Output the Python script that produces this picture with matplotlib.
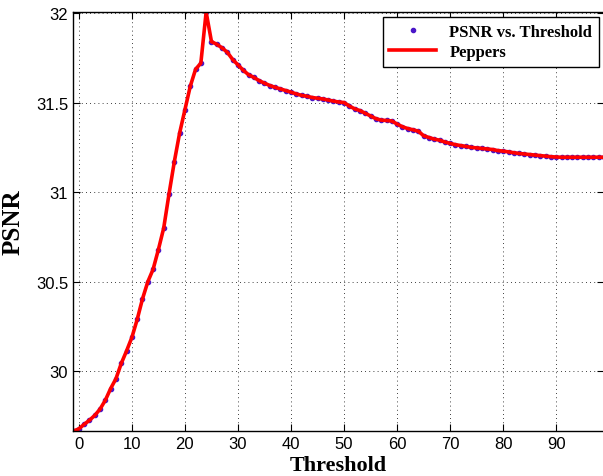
import matplotlib
matplotlib.use("Agg")
import matplotlib.pyplot as plt

# threshold values and measured PSNR (Peppers)
threshold = list(range(-1, 100))
psnr = [
    29.668, 29.680, 29.705, 29.728, 29.755, 29.790, 29.840, 29.905, 29.960, 30.045,
    30.115, 30.190, 30.290, 30.405, 30.500, 30.570, 30.680, 30.800, 30.990, 31.170,
    31.330, 31.460, 31.590, 31.685, 31.720, 32.005, 31.840, 31.825, 31.805, 31.780,
    31.740, 31.710, 31.680, 31.655, 31.640, 31.622, 31.608, 31.595, 31.585, 31.576,
    31.567, 31.558, 31.548, 31.540, 31.535, 31.528, 31.524, 31.520, 31.514, 31.508,
    31.503, 31.500, 31.480, 31.465, 31.455, 31.440, 31.425, 31.410, 31.402, 31.400,
    31.397, 31.380, 31.365, 31.355, 31.348, 31.340, 31.315, 31.305, 31.296, 31.290,
    31.280, 31.272, 31.265, 31.260, 31.255, 31.250, 31.247, 31.244, 31.241, 31.238,
    31.232, 31.229, 31.225, 31.220, 31.216, 31.213, 31.210, 31.207, 31.204, 31.201,
    31.198, 31.196, 31.195, 31.195, 31.195, 31.195, 31.195, 31.195, 31.195, 31.195,
    31.195,
]
xticks = list(range(0, 100, 10))
yticks = [30, 30.5, 31, 31.5, 32]
ytick_labels = ["30", "30.5", "31", "31.5", "32"]

fig = plt.figure(figsize=(6.03, 4.77), dpi=100)
fig.patch.set_facecolor("white")
ax = fig.add_axes([73 / 603, 1 - 432 / 477, 531 / 603, 419 / 477])

ax.plot(threshold, psnr, ".", color="#4a16c8", markersize=6, label="PSNR vs. Threshold")
ax.plot(threshold, psnr, "-", color="#ff0000", linewidth=2.6, label="Peppers")

ax.set_xlim(-1.1, 99)
ax.set_ylim(29.668, 32.005)
ax.set_xticks(xticks)
ax.set_yticks(yticks)
ax.set_yticklabels(ytick_labels)
for lab in ax.get_xticklabels() + ax.get_yticklabels():
    lab.set_family("Liberation Sans")
    lab.set_fontsize(12)

ax.tick_params(direction="in", top=True, right=True, length=5, width=0.8)
ax.grid(True, linestyle=(0, (1, 4)), color="k", linewidth=0.6)
for s in ax.spines.values():
    s.set_linewidth(1.0)

ax.set_xlabel("Threshold", family="Liberation Serif", fontweight="bold", fontsize=16, labelpad=3)
ax.set_ylabel("PSNR", family="Liberation Serif", fontweight="bold", fontsize=18, labelpad=8)

leg = ax.legend(loc="upper right", fancybox=False, framealpha=1, edgecolor="k",
                prop={"family": "Liberation Serif", "weight": "bold", "size": 12},
                borderaxespad=0.3, handlelength=2.8, labelspacing=0.25)
leg.get_frame().set_linewidth(1.0)

fig.savefig("out.png", dpi=100, facecolor="white")
